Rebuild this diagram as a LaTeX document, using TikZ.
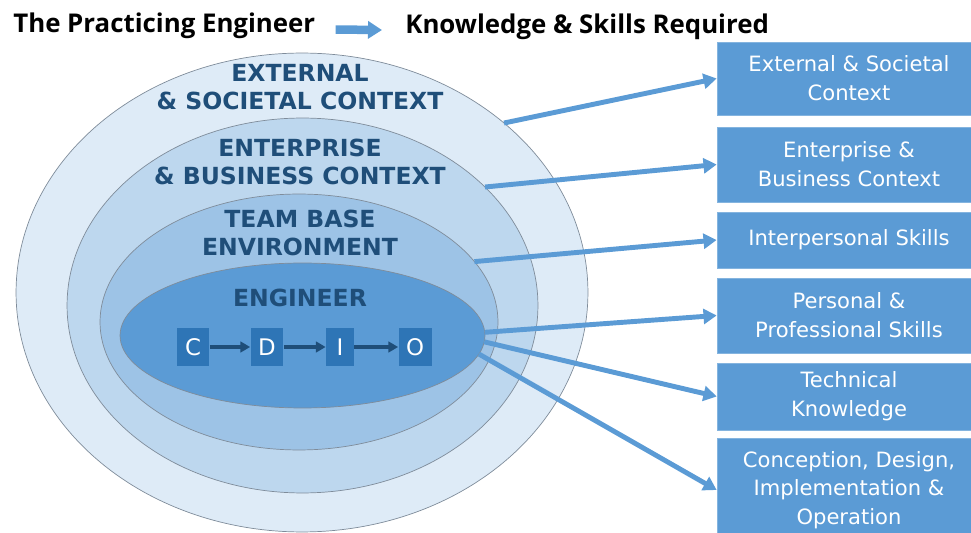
\documentclass[tikz,border=0pt]{standalone}
\usepackage{fontspec}
\setmainfont{DejaVu Sans}
\newfontfamily\headfont{Open Sans}
\usetikzlibrary{arrows.meta,positioning,shapes.geometric,calc}
\definecolor{txt}{HTML}{1F4E79}
\definecolor{ring1}{HTML}{DEEBF7}
\definecolor{ring2}{HTML}{BDD7EE}
\definecolor{ring3}{HTML}{9DC3E6}
\definecolor{ring4}{HTML}{5B9BD5}
\definecolor{edge}{HTML}{7F8C9A}
\definecolor{boxblue}{HTML}{5B9BD5}
\definecolor{cdioblue}{HTML}{2E75B6}
\definecolor{navy}{HTML}{1F4E79}

\begin{document}
\begin{tikzpicture}[
  x=0.02cm, y=-0.02cm,
  ring/.style={ellipse, draw=edge, line width=0.4pt, inner sep=0pt, outer sep=0pt},
  ringlabel/.style={font=\fontsize{13.4}{15.9}\selectfont\bfseries, text=txt, align=center, inner sep=0pt},
  skillbox/.style={draw=boxblue!75!white, fill=boxblue, minimum width=5.28cm, text=white, align=center, font=\fontsize{12}{16.4}\selectfont, inner sep=0pt},
  cdio/.style={fill=cdioblue, minimum width=0.66cm, minimum height=0.76cm, inner sep=0pt, text=white, font=\fontsize{13}{15}\selectfont},
  cdioarr/.style={line width=2.2pt, draw=navy, -{Triangle[length=5.5pt,width=6pt]}},
  link/.style={line width=2.8pt, draw=boxblue, -{Triangle[length=7.5pt,width=8.5pt]}},
  headline/.style={font=\headfont\fontsize{14.7}{17}\selectfont\bfseries, inner sep=0pt},
]
\useasboundingbox (0,0) rectangle (971,533);

\node[headline, anchor=base west] (prac) at (13,33) {The Practicing Engineer};
\node[headline, anchor=base west] (req) at (405,34) {Knowledge \& Skills Required};
\draw[line width=0.17cm, draw=boxblue, -{Triangle[length=0.28cm,width=0.34cm]}, shorten <=0.4cm, shorten >=0.46cm]
  ([yshift=-0.06cm]prac.east) -- ([yshift=-0.06cm]req.west);

\node[ring, fill=ring1, minimum width=11.44cm, minimum height=9.58cm] (ext) at (302,292.5) {};
\node[ring, fill=ring2, minimum width=9.42cm, minimum height=7.5cm] (ent) at (302.5,305.5) {};
\node[ring, fill=ring3, minimum width=7.96cm, minimum height=5.12cm] (team) at (299,322) {};
\node[ring, fill=ring4, minimum width=7.3cm, minimum height=2.9cm] (eng) at (302.5,335.5) {};

\node[ringlabel] (extlbl) at (300,87) {EXTERNAL\\\& SOCIETAL CONTEXT};
\node[ringlabel] (entlbl) at (300,161.5) {ENTERPRISE\\\& BUSINESS CONTEXT};
\node[ringlabel] (teamlbl) at (300,232.5) {TEAM BASE\\ENVIRONMENT};
\node[ringlabel] (englbl) at (300,298) {ENGINEER};

\node[cdio] (c) at (193,347) {C};
\node[cdio] (d) at (267,347) {D};
\node[cdio, minimum width=0.56cm] (i) at (340,347) {I};
\node[cdio] (o) at (415,347) {O};

\draw[cdioarr] (c) -- (d);
\draw[cdioarr] (d) -- (i);
\draw[cdioarr] (i) -- (o);

\node[skillbox, minimum height=1.46cm] (soc) at (849,78.5) {External \& Societal\\Context};
\node[skillbox, minimum height=1.5cm] (bus) at (849,164.5) {Enterprise \&\\Business Context};
\node[skillbox, minimum height=1.12cm] (inter) at (849,240) {Interpersonal Skills};
\node[skillbox, minimum height=1.5cm] (pers) at (849,315.5) {Personal \&\\Professional Skills};
\node[skillbox, minimum height=1.34cm] (tech) at (849,396.5) {Technical\\Knowledge};
\node[skillbox, minimum height=2.08cm] (cdi) at (849,490) {Conception, Design,\\Implementation \&\\Operation};

\draw[link] (ext.40) -- (soc.west);
\draw[link] (ent.33) -- (bus.west);
\draw[link] (team.19) -- (inter.west);
\draw[link] (eng.1) -- (pers.west);
\draw[link] (eng.-2) -- (tech.west);
\draw[link] (eng.-6) -- (cdi.west);

\end{tikzpicture}
\end{document}
